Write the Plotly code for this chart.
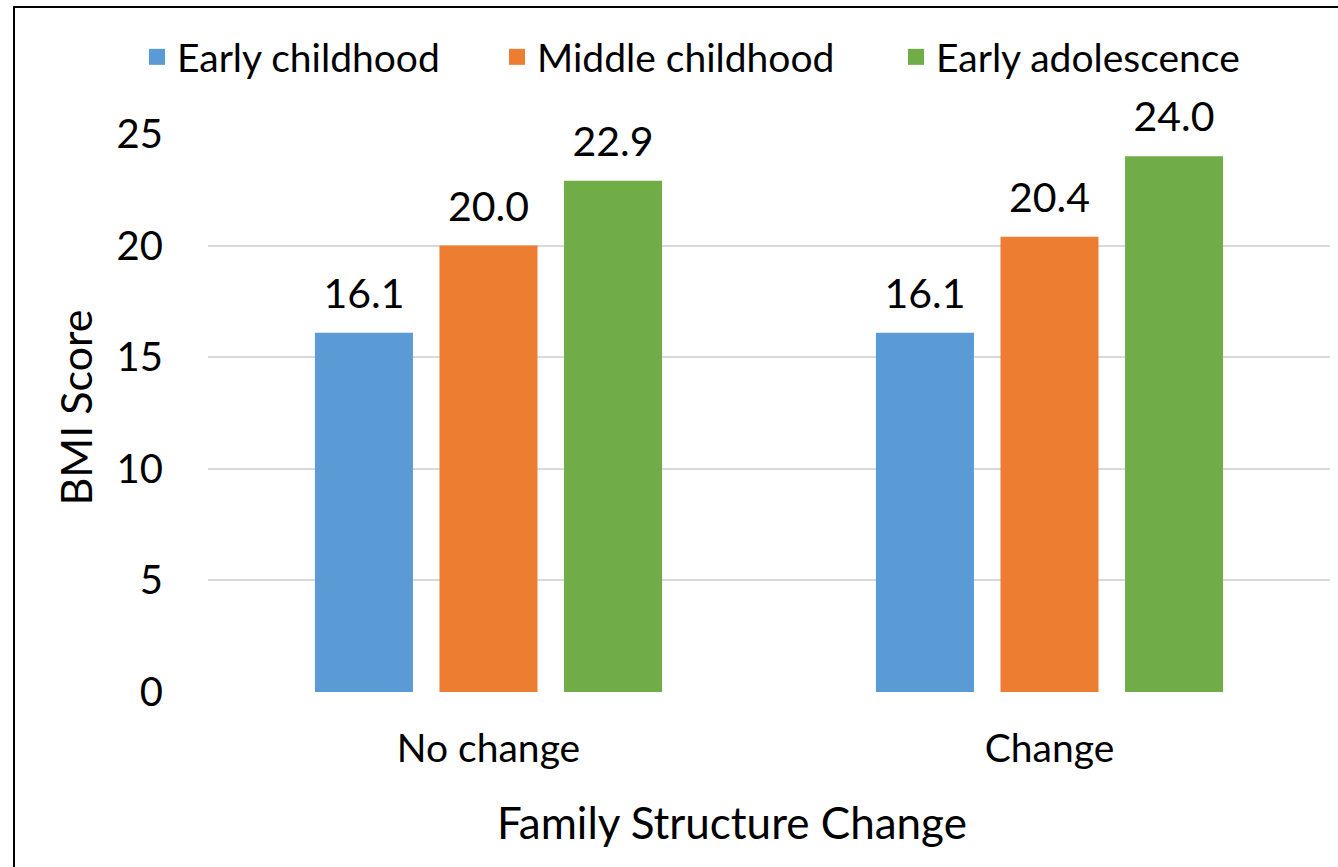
import plotly.graph_objects as go

categories = ["No change", "Change"]
series_names = ["Early childhood", "Middle childhood", "Early adolescence"]
early_childhood = [16.1, 16.1]
middle_childhood = [20.0, 20.4]
early_adolescence = [22.9, 24.0]
colors = ["#5B9BD5", "#ED7D31", "#70AD47"]
y_ticks = [0, 5, 10, 15, 20, 25]

FONT = "Lato"
legend_ids = ["legend", "legend2", "legend3"]
legend_x = [-0.0633, 0.2576, 0.6132]

fig = go.Figure()
series = [early_childhood, middle_childhood, early_adolescence]
for i, (name, vals, col) in enumerate(zip(series_names, series, colors)):
    fig.add_trace(go.Bar(
        x=categories, y=vals, name=name, marker=dict(color=col, line=dict(width=0)),
        showlegend=False, legendgroup=name, offsetgroup=name, alignmentgroup="a",
    ))
for i, (name, vals, col) in enumerate(zip(series_names, series, colors)):
    # value labels above the bars
    fig.add_trace(go.Scatter(
        x=categories, y=vals, mode="markers+text", texttemplate="%{y:.1f}",
        textposition="top center", cliponaxis=False, showlegend=False,
        marker=dict(size=22, opacity=0), hoverinfo="skip",
        offsetgroup=name, alignmentgroup="a",
        textfont=dict(size=41, color="black", family=FONT),
    ))
for i, (name, col) in enumerate(zip(series_names, colors)):
    # legend entries
    fig.add_trace(go.Scatter(
        x=[None], y=[None], mode="markers", name=name, legendgroup=name,
        marker=dict(symbol="square", size=16, color=col),
        legend=legend_ids[i], alignmentgroup="p", offsetgroup="p" + str(i),
    ))

leg_common = dict(orientation="h", y=1.138, xanchor="left", yanchor="middle",
                  font=dict(size=39, family=FONT), bgcolor="rgba(0,0,0,0)")
fig.update_layout(
    width=1338, height=867,
    margin=dict(l=208, r=8, t=134, b=175),
    paper_bgcolor="white", plot_bgcolor="white",
    font=dict(family=FONT, color="black", size=40),
    barmode="group", bargap=0.334, bargroupgap=0.213,
    scattermode="group", scattergap=0.334,
    showlegend=True,
    legend=dict(x=legend_x[0], **leg_common),
    legend2=dict(x=legend_x[1], **leg_common),
    legend3=dict(x=legend_x[2], **leg_common),
    xaxis=dict(showline=False, ticks="", tickfont=dict(size=39), showgrid=False,
               ticklabelstandoff=30),
    yaxis=dict(range=[0, 25], tickvals=y_ticks, showgrid=True, gridcolor="#D9D9D9",
               gridwidth=2, zeroline=False, showline=False, ticks="",
               tickfont=dict(size=40), ticklabelstandoff=44),
    annotations=[
        dict(text="Family Structure Change", xref="paper", yref="paper", x=0.467, y=-0.233,
             xanchor="center", yanchor="middle", showarrow=False, font=dict(size=44)),
        dict(text="BMI Score", xref="paper", yref="paper", x=-0.1185, y=0.51,
             xanchor="center", yanchor="middle", showarrow=False, textangle=-90, font=dict(size=43)),
    ],
    shapes=[dict(type="rect", xref="paper", yref="paper", x0=-0.1729, x1=1.2, y0=-0.5, y1=1.2276,
                 line=dict(color="black", width=2), fillcolor="rgba(0,0,0,0)", layer="above")],
)
fig.write_html("out.html")
